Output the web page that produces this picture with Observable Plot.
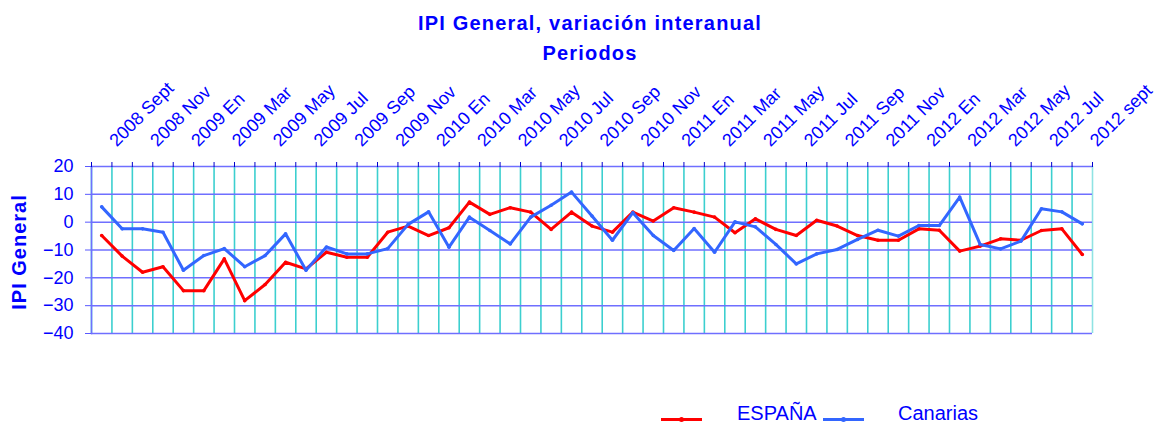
<!DOCTYPE html>
<html>
<head>
<meta charset="utf-8">
<script src="https://cdn.jsdelivr.net/npm/d3@7"></script>
<script src="https://cdn.jsdelivr.net/npm/@observablehq/plot@0.6"></script>
<style>
  body { margin: 0; background: #fff; }
  #wrap { position: relative; width: 1156px; height: 425px; overflow: hidden; background: #fff;
          font-family: Arial, "Liberation Sans", sans-serif; color: #0000ff; }
  #title { position: absolute; top: 8px; left: 90px; width: 1000px; text-align: center;
           font-weight: bold; font-size: 20px; line-height: 30px; letter-spacing: 1.2px; }
  #ylab { position: absolute; left: -81px; top: 237px; width: 200px; height: 30px; line-height: 30px;
          text-align: center; font-weight: bold; font-size: 20px; letter-spacing: 1px; transform: rotate(-90deg); }
  #chart { position: absolute; left: 0; top: 62px; }
  .sw { position: absolute; height: 3px; width: 41px; top: 418px; }
  .sw i { position: absolute; left: 18px; top: -1px; width: 5px; height: 5px; border-radius: 50%; }
  .lt { position: absolute; top: 403px; font-size: 20px; line-height: 20px; }
</style>
</head>
<body>
<div id="wrap">
  <div id="title">IPI General, variación interanual<br>Periodos</div>
  <div id="ylab">IPI General</div>
  <div id="chart"></div>
  <div class="sw" style="left:661px;background:#ff0000"><i style="background:#ff0000"></i></div>
  <div class="lt" style="left:737px">ESPAÑA</div>
  <div class="sw" style="left:823px;background:#3366ff"><i style="background:#3366ff"></i></div>
  <div class="lt" style="left:898px">Canarias</div>
</div>
<script>
const months = [
  "2008 Sept","2008 Oct","2008 Nov","2008 Dic",
  "2009 En","2009 Feb","2009 Mar","2009 Abr","2009 May","2009 Jun","2009 Jul","2009 Ago","2009 Sep","2009 Oct","2009 Nov","2009 Dic",
  "2010 En","2010 Feb","2010 Mar","2010 Abr","2010 May","2010 Jun","2010 Jul","2010 Ago","2010 Sep","2010 Oct","2010 Nov","2010 Dic",
  "2011 En","2011 Feb","2011 Mar","2011 Abr","2011 May","2011 Jun","2011 Jul","2011 Ago","2011 Sep","2011 Oct","2011 Nov","2011 Dic",
  "2012 En","2012 Feb","2012 Mar","2012 Abr","2012 May","2012 Jun","2012 Jul","2012 Ago","2012 sept"
];
const tickLabels = [
  "2008 Sept","2008 Nov","2009 En","2009 Mar","2009 May","2009 Jul","2009 Sep","2009 Nov",
  "2010 En","2010 Mar","2010 May","2010 Jul","2010 Sep","2010 Nov",
  "2011 En","2011 Mar","2011 May","2011 Jul","2011 Sep","2011 Nov",
  "2012 En","2012 Mar","2012 May","2012 Jul","2012 sept"
];
const espana = [
  -4.8,-12.2,-18,-16,-24.6,-24.6,-13.2,-28.2,-22.4,-14.4,-16.8,-10.8,-12.6,-12.6,-3.6,-1.4,-4.8,
  -2.0,7.2,2.8,5.2,3.6,-2.6,3.6,-1.4,-3.6,3.6,0.4,5.2,3.6,1.8,-3.8,1.2,
  -2.6,
  -4.8,0.7,-1.4,-4.8,-6.5,-6.5,-2.4,-2.9,-10.4,-8.6,-6.0,-6.5,-3.0,-2.4,-11.6
];
const canarias = [
  5.5,-2.4,-2.4,-3.6,-17.3,-12,-9.5,-16,-12,-4.2,-17.3,-8.9,-11.4,-11.4,-9.5,-0.8,3.7,
  -9.0,1.8,-3.0,-7.8,1.8,6.1,10.8,2.2,-6.5,3.4,-4.8,-10.2,-2.3,-10.8,0.1,-1.7,
  -8.0,
  -15.0,-11.4,-9.8,-6.2,-2.9,-5.0,-1.2,-1.2,9.0,-8.0,-9.6,-6.8,4.8,3.7,-0.6
];
const yTicks = [20, 10, 0, -10, -20, -30, -40];

const rows = months.map((m, i) => ({month: m, espana: espana[i], canarias: canarias[i]}));

const W = 1156, ML = 91, MR = 64;
const bw = (W - ML - MR) / months.length;
const last = months[months.length - 1];

const chart = Plot.plot({
  width: W, height: 320,
  marginTop: 104, marginBottom: 49, marginLeft: ML, marginRight: MR,
  x: {type: "band", domain: months, padding: 0, round: false},
  y: {domain: [-40, 20]},
  style: {fontFamily: "Arial, 'Liberation Sans', sans-serif", fontSize: "18px", color: "#0000ff", background: "transparent", overflow: "visible"},
  marks: [
    Plot.ruleX(months, {x: d => d, dx: -bw / 2, stroke: "#3ccfcf", strokeWidth: 1.6}),
    Plot.ruleX([last], {x: d => d, dx: bw / 2, stroke: "#8fe3e3", strokeWidth: 1.6}),
    Plot.ruleY(yTicks, {y: d => d, stroke: "#6f6fff", strokeWidth: 1.5}),
    Plot.frame({anchor: "left", stroke: "#6f6fff", strokeWidth: 1.5}),
    Plot.axisY({ticks: yTicks, tickSize: 6, tickPadding: 12, label: null, stroke: "#5a5aff"}),
    Plot.axisX({anchor: "top", ticks: months, tickSize: 5, tickFormat: () => "", dx: -bw / 2, label: null, stroke: "#0000cc"}),
    Plot.axisX({anchor: "top", ticks: [last], tickSize: 5, tickFormat: () => "", dx: bw / 2, label: null, stroke: "#0000cc"}),
    Plot.text(tickLabels, {x: d => d, frameAnchor: "top", dx: 15, dy: -19, rotate: -45,
      textAnchor: "start", lineAnchor: "bottom", fontSize: 18, fill: "#0000ff"}),
    Plot.line(rows, {x: "month", y: "espana", stroke: "#ff0000", strokeWidth: 3}),
    Plot.dot(rows, {x: "month", y: "espana", r: 1.8, fill: "#ff0000"}),
    Plot.line(rows, {x: "month", y: "canarias", stroke: "#3366ff", strokeWidth: 3}),
    Plot.dot(rows, {x: "month", y: "canarias", r: 1.8, fill: "#3366ff"})
  ]
});
document.getElementById("chart").appendChild(chart);
</script>
</body>
</html>
